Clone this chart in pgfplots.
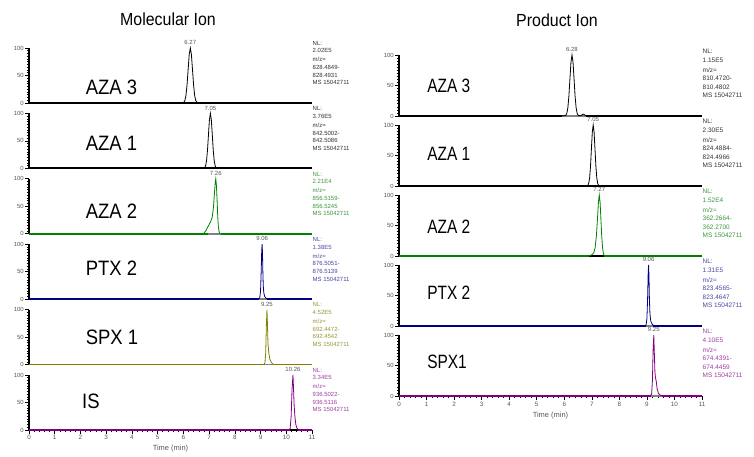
\documentclass[border=0pt]{standalone}
\usepackage{fontspec}
\setmainfont{Liberation Sans}
\usepackage{graphicx}
\usepackage{pgfplots}
\pgfplotsset{compat=1.18}

\definecolor{trgreen}{RGB}{0,128,0}
\definecolor{txgreen}{RGB}{60,150,60}
\definecolor{trblue}{RGB}{0,0,128}
\definecolor{txblue}{RGB}{70,70,160}
\definecolor{trolive}{RGB}{128,128,0}
\definecolor{txolive}{RGB}{150,150,50}
\definecolor{trpurple}{RGB}{128,0,128}
\definecolor{txpurple}{RGB}{160,60,160}
\definecolor{txblack}{RGB}{50,50,50}
\definecolor{tickgray}{RGB}{85,85,85}

\pgfplotsset{
  chrom/.style={
    scale only axis, anchor=south west, clip=false,
    xmin=0, xmax=11, ymin=0, ymax=100,
    axis x line*=bottom, axis y line*=left,
    ytick={0,50,100}, minor y tick num=9,
    xtick=\empty,
    tick align=outside,
    major tick length=4bp, minor tick length=2.3bp,
    axis line style={line width=1.1bp},
    tick style={black, line width=0.6bp},
    /pgf/number format/assume math mode=true,
    yticklabel style={font=\fontsize{6}{6}\selectfont, text=tickgray, inner sep=1bp},
  },
  leftcol/.style={chrom, width=283bp, height=55bp},
  rightcol/.style={chrom, width=303bp, height=61bp},
  timeaxis/.style={
    xtick={0,1,...,11}, minor x tick num=4,
    xticklabel style={font=\fontsize{6.3}{6.3}\selectfont, text=tickgray, inner sep=0.8bp},
    xlabel={Time (min)},
    xlabel style={font=\fontsize{7.5}{7.5}\selectfont, text=tickgray,
      at={(axis description cs:0.5,0)}, anchor=center},
  },
}

% annotation blocks (NL, m/z range)
\newcommand{\annL}[4]{\node[anchor=north west, inner sep=0pt, align=left, text=#1,
  font=\fontsize{6}{7.7}\selectfont, xshift=0.5bp, yshift=7bp] at (rel axis cs:1,1)
  {NL:\\#2\\[1.3bp]m/z=\\#3-\\#4\\MS 15042711};}
\newcommand{\annR}[4]{\node[anchor=north west, inner sep=0pt, align=left, text=#1,
  font=\fontsize{6.5}{8.6}\selectfont, xshift=0.5bp, yshift=6bp] at (rel axis cs:1,1)
  {NL:\\#2\\[1.3bp]m/z=\\#3-\\#4\\MS 15042711};}
\newcommand{\pk}[1]{\node[anchor=south, inner sep=0pt, yshift=3bp,
  font=\fontsize{6}{6}\selectfont, text=tickgray] at (axis cs:#1,100) {#1};}
\newcommand{\labL}[3]{\node[anchor=west, inner sep=0pt, font=\fontsize{18.5}{18.5}\selectfont]
  at (axis cs:#1,#2) {\scalebox{1}[1.13]{#3}};}
\newcommand{\labR}[3]{\node[anchor=west, inner sep=0pt, font=\fontsize{15.5}{15.5}\selectfont]
  at (axis cs:#1,#2) {\scalebox{1}[1.25]{#3}};}

\begin{document}
\begin{tikzpicture}
\useasboundingbox (0,0) rectangle (754bp,457bp);

\node[font=\fontsize{16}{16}\selectfont] at (168bp,438bp) {\scalebox{1}[1.1]{Molecular Ion}};
\node[font=\fontsize{16}{16}\selectfont] at (557bp,437bp) {\scalebox{1}[1.1]{Product Ion}};

% ---------------- Molecular Ion ----------------
\begin{axis}[leftcol, at={(29bp,354bp)}]
\addplot[black, line width=1.8bp] coordinates {(0,0)(11,0)};
\addplot[black, line width=0.8bp] coordinates {
 (5.96,0)(6.015,1.1)(6.0575,4.4)(6.10,13.5)(6.1425,32.5)(6.185,60.7)(6.2275,88.2)(6.27,100)
 (6.3125,88.2)(6.355,60.7)(6.3975,32.5)(6.44,13.5)(6.4825,4.4)(6.525,1.1)(6.58,0)};
\pk{6.27}
\annL{txblack}{2.02E5}{828.4849}{828.4931}
\labL{2.2}{28}{AZA 3}
\end{axis}

\begin{axis}[leftcol, at={(29bp,288.6bp)}]
\addplot[black, line width=1.8bp] coordinates {(0,0)(11,0)};
\addplot[black, line width=0.8bp] coordinates {
 (6.80,0)(6.825,1.1)(6.8625,4.4)(6.90,13.5)(6.9375,32.5)(6.975,60.7)(7.0125,88.2)(7.05,100)
 (7.0875,88.2)(7.125,60.7)(7.1625,32.5)(7.20,13.5)(7.2375,4.4)(7.275,1.1)(7.32,0)};
\pk{7.05}
\annL{txblack}{3.76E5}{842.5002}{842.5086}
\labL{2.2}{45}{AZA 1}
\end{axis}

\begin{axis}[leftcol, at={(29bp,223.2bp)}]
\addplot[trgreen, line width=1.8bp] coordinates {(0,0)(11,0)};
\addplot[black!50, line width=1.8bp] coordinates {(6.95,0)(7.45,0)};
\addplot[trgreen, line width=0.8bp] coordinates {
 (6.75,0)(6.82,2)(6.90,8)(6.98,15)(7.06,22)(7.12,30)(7.17,48)(7.21,75)(7.24,94)(7.26,100)
 (7.285,88)(7.31,62)(7.335,33)(7.36,13)(7.39,4)(7.43,0)};
\pk{7.26}
\annL{txgreen}{2.21E4}{856.5159}{856.5245}
\labL{2.2}{41}{AZA 2}
\end{axis}

\begin{axis}[leftcol, at={(29bp,157.8bp)}]
\addplot[trblue, line width=1.8bp] coordinates {(0,0)(11,0)};
\addplot[black!50, line width=1.8bp] coordinates {(8.95,0)(9.25,0)};
\addplot[trblue, line width=0.8bp] coordinates {
 (8.92,0)(8.97,3)(9.0,15)(9.025,50)(9.045,88)(9.06,100)(9.075,85)(9.09,50)(9.105,25)
 (9.125,12)(9.16,5)(9.22,1.5)(9.3,0)};
\pk{9.06}
\annL{txblue}{1.38E5}{876.5051}{876.5139}
\labL{2.2}{56}{PTX 2}
\end{axis}

\begin{axis}[leftcol, at={(29bp,92.4bp)}]
\addplot[trolive, line width=1.8bp] coordinates {(0,0)(11,0)};
\addplot[black!50, line width=1.8bp] coordinates {(9.17,0)(9.47,0)};
\addplot[trolive, line width=0.8bp] coordinates {
 (9.12,0)(9.17,3)(9.2,20)(9.225,70)(9.25,100)(9.27,70)(9.29,38)(9.32,22)(9.36,10)
 (9.42,4)(9.5,0)};
\pk{9.25}
\annL{txolive}{4.52E5}{692.4472}{692.4542}
\labL{2.2}{49}{SPX 1}
\end{axis}

\begin{axis}[leftcol, timeaxis, at={(29bp,27bp)}, xlabel style={yshift=-19bp}]
\addplot[trpurple, line width=1.8bp] coordinates {(0,0)(11,0)};
\addplot[black, line width=1.8bp] coordinates {(10.14,0)(10.45,0)};
\addplot[trpurple, line width=0.8bp] coordinates {
 (10.1,0)(10.15,3)(10.19,25)(10.225,75)(10.26,100)(10.28,78)(10.305,45)(10.335,25)
 (10.37,10)(10.42,3)(10.48,0)};
\pk{10.26}
\annL{txpurple}{3.34E5}{936.5022}{936.5116}
\labL{2.06}{53}{IS}
\end{axis}

% ---------------- Product Ion ----------------
\begin{axis}[rightcol, at={(399bp,341bp)}]
\addplot[black, line width=1.8bp] coordinates {(0,0)(11,0)};
\addplot[black!50, line width=1.8bp] coordinates {(5.92,0)(6.8,0)};
\addplot[black, line width=0.8bp] coordinates {
 (5.9,0)(5.97,0.5)(6.055,1.1)(6.0925,4.4)(6.13,13.5)(6.1675,32.5)(6.205,60.7)(6.2425,88.2)(6.28,100)
 (6.3175,88.2)(6.355,60.7)(6.3925,32.5)(6.43,13.5)(6.4675,4.4)(6.505,1.1)(6.55,0.5)
 (6.62,1)(6.68,3)(6.72,2.5)(6.78,0.5)(6.85,0)};
\pk{6.28}
\annR{txblack}{1.15E5}{810.4720}{810.4802}
\labR{1.02}{49}{AZA 3}
\end{axis}

\begin{axis}[rightcol, at={(399bp,271bp)}]
\addplot[black, line width=1.8bp] coordinates {(0,0)(11,0)};
\addplot[black, line width=0.8bp] coordinates {
 (6.80,0)(6.855,1.1)(6.8875,4.4)(6.92,13.5)(6.9525,32.5)(6.985,60.7)(7.0175,88.2)(7.05,100)
 (7.0825,88.2)(7.115,60.7)(7.1475,32.5)(7.18,13.5)(7.2125,4.4)(7.245,1.1)(7.30,0)};
\pk{7.05}
\annR{txblack}{2.30E5}{824.4884}{824.4966}
\labR{1.02}{52}{AZA 1}
\end{axis}

\begin{axis}[rightcol, at={(399bp,201bp)}]
\addplot[trgreen, line width=1.8bp] coordinates {(0,0)(11,0)};
\addplot[black, line width=1.8bp] coordinates {(6.9,0)(7.45,0)};
\addplot[trgreen, line width=0.8bp] coordinates {
 (6.9,0)(7.0,2)(7.07,5)(7.12,13.5)(7.165,32.5)(7.205,60.7)(7.24,88.2)(7.27,100)
 (7.30,88.2)(7.33,60.7)(7.36,32.5)(7.39,13.5)(7.42,4.4)(7.45,1.1)(7.49,0)};
\pk{7.27}
\annR{txgreen}{1.52E4}{362.2664}{362.2700}
\labR{1.02}{47.5}{AZA 2}
\end{axis}

\begin{axis}[rightcol, at={(399bp,131bp)}]
\addplot[trblue, line width=1.8bp] coordinates {(0,0)(11,0)};
\addplot[black!50, line width=1.8bp] coordinates {(8.95,0)(9.22,0)};
\addplot[trblue, line width=0.8bp] coordinates {
 (8.92,0)(8.97,2)(9.0,12)(9.025,45)(9.045,85)(9.06,100)(9.075,82)(9.09,45)(9.11,20)
 (9.14,8)(9.19,3)(9.26,0)};
\pk{9.06}
\annR{txblue}{1.31E5}{823.4565}{823.4647}
\labR{1.02}{54}{PTX 2}
\end{axis}

\begin{axis}[rightcol, timeaxis, at={(399bp,61bp)}, xlabel style={yshift=-20bp},
  xticklabel style={inner sep=2bp}]
\addplot[trpurple, line width=1.8bp] coordinates {(0,0)(11,0)};
\addplot[black!50, line width=1.8bp] coordinates {(9.15,0)(9.55,0)};
\addplot[trpurple, line width=0.8bp] coordinates {
 (9.12,0)(9.17,3)(9.2,25)(9.225,75)(9.25,100)(9.27,70)(9.29,40)(9.31,30)(9.34,24)
 (9.37,12)(9.42,4)(9.5,1)(9.58,0)};
\pk{9.25}
\annR{txpurple}{4.10E5}{674.4391}{674.4459}
\labR{1.02}{56.5}{SPX1}
\end{axis}
\end{tikzpicture}
\end{document}
